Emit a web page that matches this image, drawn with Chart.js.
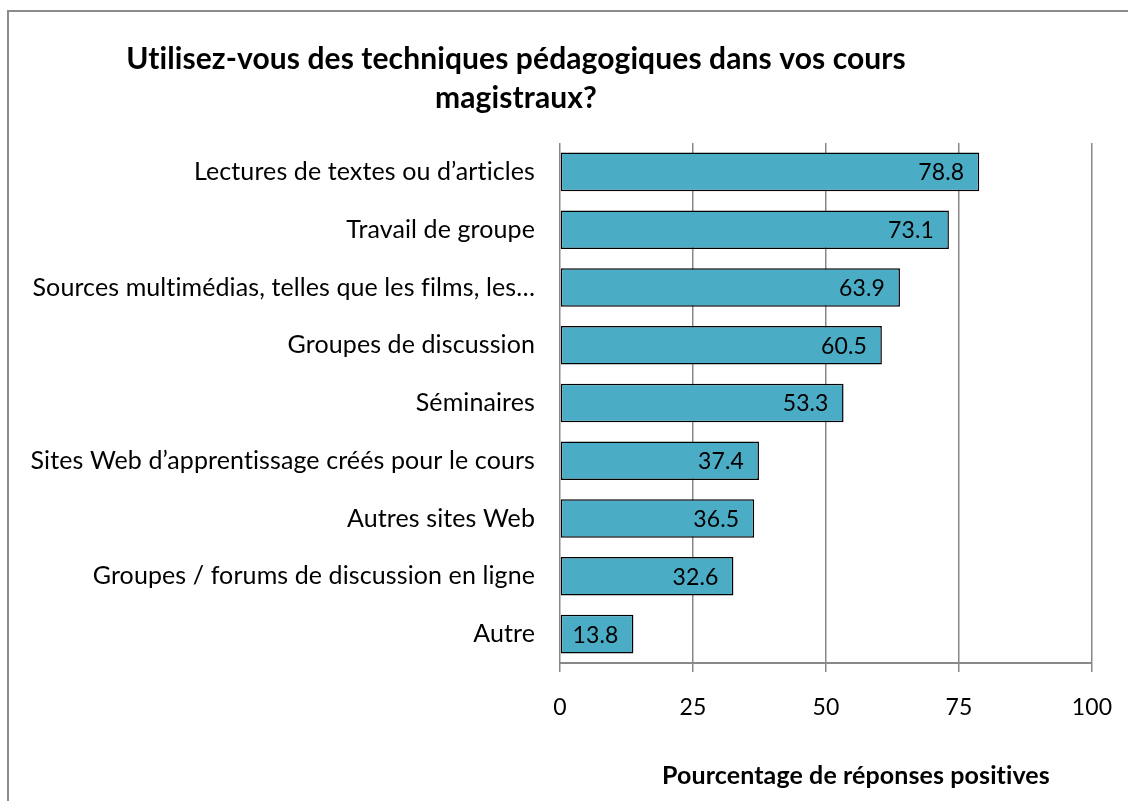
<!DOCTYPE html>
<html>
<head>
<meta charset="utf-8">
<script src="https://cdn.jsdelivr.net/npm/chart.js@4.4.1/dist/chart.umd.min.js"></script>
<style>
  html, body { margin: 0; padding: 0; background: #ffffff; }
  #wrap { position: relative; width: 1128px; height: 801px; }
</style>
</head>
<body>
<div id="wrap"><canvas id="c" width="1128" height="801"></canvas></div>
<script>
const categories = [
  "Lectures de textes ou d’articles",
  "Travail de groupe",
  "Sources multimédias, telles que les films, les…",
  "Groupes de discussion",
  "Séminaires",
  "Sites Web d’apprentissage créés pour le cours",
  "Autres sites Web",
  "Groupes / forums de discussion en ligne",
  "Autre"
];
const values = [78.8, 73.1, 63.9, 60.5, 53.3, 37.4, 36.5, 32.6, 13.8];
const xTicks = [0, 25, 50, 75, 100];
const titleLines = ["Utilisez-vous des techniques pédagogiques dans vos cours", "magistraux?"];
const axisTitle = "Pourcentage de réponses positives";

const FONT = "Lato, 'Open Sans', sans-serif";

function noLig(ctx) { try { ctx.letterSpacing = '0.1px'; } catch (e) {} }

const decor = {
  id: 'decor',
  beforeUpdate(chart) { noLig(chart.ctx); },
  beforeDraw(chart) {
    const ctx = chart.ctx;
    noLig(ctx);
    ctx.save();
    ctx.fillStyle = '#ffffff';
    ctx.fillRect(0, 0, chart.width, chart.height);
    ctx.strokeStyle = '#8c8c8c';
    ctx.lineWidth = 2;
    ctx.beginPath();
    ctx.moveTo(8, chart.height);
    ctx.lineTo(8, 11);
    ctx.lineTo(chart.width, 11);
    ctx.stroke();
    ctx.restore();
  },
  afterDraw(chart) {
    const ctx = chart.ctx;
    ctx.save();
    // title
    ctx.fillStyle = '#000000';
    ctx.font = "bold 30px " + FONT;
    ctx.textAlign = 'center';
    ctx.textBaseline = 'alphabetic';
    ctx.fillText(titleLines[0], 516, 69);
    ctx.fillText(titleLines[1], 516, 108);
    // data labels
    ctx.font = "23px " + FONT;
    ctx.textAlign = 'right';
    ctx.textBaseline = 'middle';
    const meta = chart.getDatasetMeta(0);
    meta.data.forEach((bar, i) => {
      ctx.fillText(values[i].toFixed(1), bar.x - 15, bar.y + 1);
    });
    // axis title
    ctx.font = "bold 25px " + FONT;
    ctx.textAlign = 'center';
    ctx.textBaseline = 'alphabetic';
    ctx.fillText(axisTitle, 856, 784);
    ctx.restore();
  }
};

new Chart(document.getElementById('c'), {
  type: 'bar',
  data: {
    labels: categories,
    datasets: [{
      data: values,
      backgroundColor: '#4BACC6',
      borderColor: '#000000',
      borderWidth: 1.5,
      borderSkipped: false,
      categoryPercentage: 1.0,
      barPercentage: 0.667
    }]
  },
  options: {
    indexAxis: 'y',
    responsive: false,
    animation: false,
    devicePixelRatio: 1,
    layout: { padding: { top: 143, right: 36, left: 0, bottom: 0 } },
    plugins: {
      legend: { display: false },
      title: { display: false },
      tooltip: { enabled: false }
    },
    scales: {
      x: {
        min: 0, max: 100,
        afterBuildTicks(scale) { scale.ticks = xTicks.map(v => ({ value: v })); },
        afterFit(scale) { scale.height = 138; scale.paddingLeft = 0; scale.paddingRight = 0; },
        grid: { color: '#888888', lineWidth: 1.5, drawTicks: true, tickLength: 9, tickColor: '#888888' },
        border: { display: true, color: '#888888', width: 2 },
        ticks: { color: '#000000', font: { family: FONT, size: 23 }, padding: 22, maxRotation: 0 }
      },
      y: {
        afterFit(scale) { scale.width = 560; scale.paddingTop = 0; scale.paddingBottom = 0; },
        grid: { display: false, drawTicks: false },
        border: { display: false },
        ticks: { color: '#000000', font: { family: FONT, size: 25 }, padding: 25, autoSkip: false }
      }
    }
  },
  plugins: [decor]
});
</script>
</body>
</html>
